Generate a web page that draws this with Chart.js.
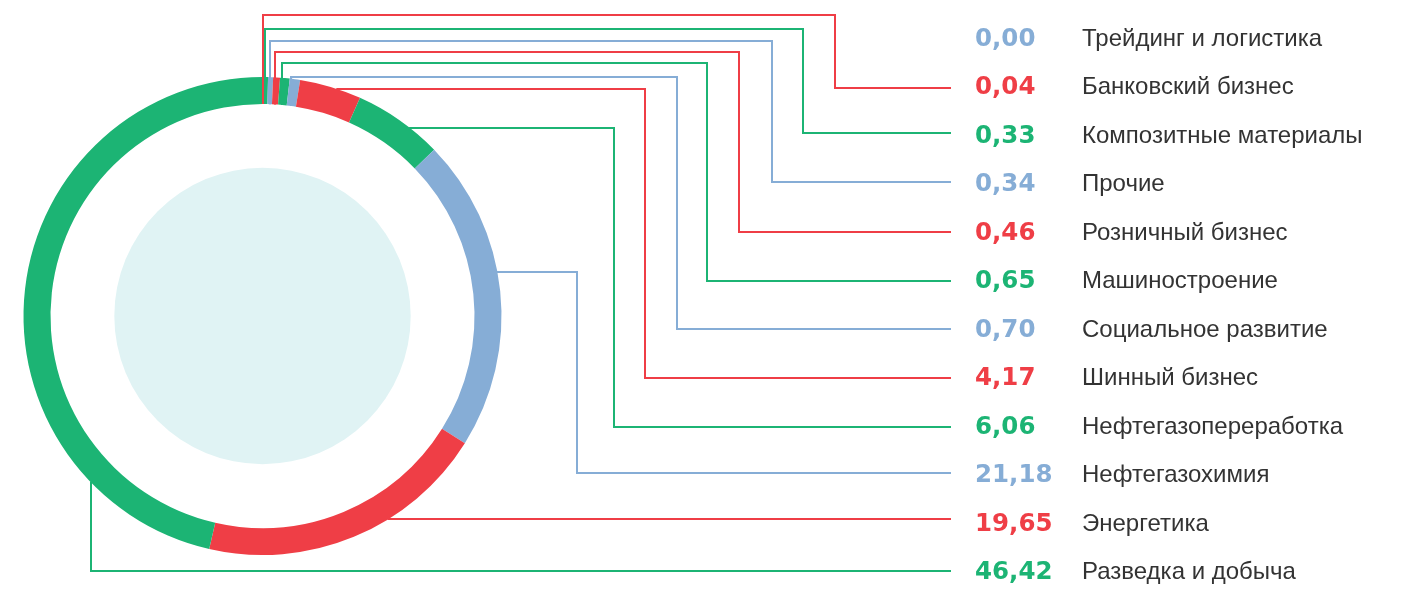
<!DOCTYPE html>
<html>
<head>
<meta charset="utf-8">
<script src="https://cdn.jsdelivr.net/npm/chart.js@4.4.1/dist/chart.umd.min.js"></script>
<style>
  html, body { margin: 0; padding: 0; background: #ffffff; }
  #wrap { position: relative; width: 1407px; height: 589px; overflow: hidden; }
  #chart { position: absolute; left: 0; top: 0; }
  .cell { position: absolute; height: 30px; line-height: 30px; white-space: nowrap; }
  .val { font-family: "DejaVu Sans", sans-serif; font-weight: bold; font-size: 24.5px; }
  .lab { font-family: "Liberation Sans", Arial, sans-serif; font-size: 24px; color: #333333; }
</style>
</head>
<body>
<div id="wrap">
  <canvas id="chart" width="1407" height="589"></canvas>
  <div id="legend"></div>
</div>
<script>
// ---- data ----
const categories = [
  'Трейдинг и логистика',
  'Банковский бизнес',
  'Композитные материалы',
  'Прочие',
  'Розничный бизнес',
  'Машиностроение',
  'Социальное развитие',
  'Шинный бизнес',
  'Нефтегазопереработка',
  'Нефтегазохимия',
  'Энергетика',
  'Разведка и добыча'
];
const shares = [0.00, 0.04, 0.33, 0.34, 0.46, 0.65, 0.70, 4.17, 6.06, 21.18, 19.65, 46.42];

// ---- styles / layout ----
const GREEN = '#1cb474', RED = '#ef3e46', BLUE = '#86add6';
const sliceColors = [BLUE, RED, GREEN, BLUE, RED, GREEN, BLUE, RED, GREEN, BLUE, RED, GREEN];
const discColor = '#e0f3f4';
const discRatio = 0.62;
const lineEndX = 951;
const valueX = 975, labelX = 1082;
const rowTop = 37.5, rowStep = 48.53;
// connector routes (layout only)
const connectorRoutes = [
  null,
  { mode: 'up',   elbowY: 15,  bendX: 835, endY: 88 },
  { mode: 'up',   elbowY: 29,  bendX: 803, endY: 133 },
  { mode: 'up',   elbowY: 41,  bendX: 772, endY: 182 },
  { mode: 'up',   elbowY: 52,  bendX: 739, endY: 232 },
  { mode: 'up',   elbowY: 63,  bendX: 707, endY: 281 },
  { mode: 'up',   elbowY: 77,  bendX: 677, endY: 329 },
  { mode: 'side', elbowY: 89,  bendX: 645, endY: 378 },
  { mode: 'side', elbowY: 128, bendX: 614, endY: 427 },
  { mode: 'side', elbowY: 272, bendX: 577, endY: 473 },
  { mode: 'side', elbowY: 519, bendX: null, endY: 519 },
  { mode: 'down', bendX: 91, endY: 571 }
];

const ringDecor = {
  id: 'ringDecor',
  beforeDatasetsDraw(chart) {
    const arc = chart.getDatasetMeta(0).data[0];
    if (!arc) return;
    const p = arc.getProps(['x', 'y', 'outerRadius'], true);
    const ctx = chart.ctx;
    ctx.save();
    ctx.fillStyle = discColor;
    ctx.beginPath();
    ctx.arc(p.x, p.y, p.outerRadius * discRatio, 0, Math.PI * 2);
    ctx.fill();
    ctx.restore();
  },
  afterDatasetsDraw(chart) {
    const ctx = chart.ctx;
    const meta = chart.getDatasetMeta(0);
    ctx.save();
    ctx.lineWidth = 2;
    ctx.lineJoin = 'miter';
    ctx.lineCap = 'butt';
    meta.data.forEach((arc, i) => {
      const r = connectorRoutes[i];
      if (!r) return;
      const p = arc.getProps(['x', 'y', 'startAngle', 'endAngle', 'innerRadius', 'outerRadius'], true);
      const pts = [];
      if (r.mode === 'up') {
        const mid = (p.startAngle + p.endAngle) / 2;
        const sx = Math.round(p.x + Math.cos(mid) * p.innerRadius);
        const sy = p.y + Math.sin(mid) * p.innerRadius;
        pts.push([sx, sy], [sx, r.elbowY], [r.bendX, r.elbowY], [r.bendX, r.endY], [lineEndX, r.endY]);
      } else if (r.mode === 'side') {
        const dy = r.elbowY - p.y;
        const sx = p.x + Math.sqrt(Math.max(p.outerRadius * p.outerRadius - dy * dy, 0)) - 1;
        pts.push([sx, r.elbowY]);
        if (r.bendX !== null) {
          pts.push([r.bendX, r.elbowY], [r.bendX, r.endY]);
        }
        pts.push([lineEndX, r.endY]);
      } else if (r.mode === 'down') {
        const dx = r.bendX - p.x;
        const sy = p.y + Math.sqrt(Math.max(p.outerRadius * p.outerRadius - dx * dx, 0)) - 1;
        pts.push([r.bendX, sy], [r.bendX, r.endY], [lineEndX, r.endY]);
      }
      ctx.strokeStyle = sliceColors[i];
      ctx.beginPath();
      pts.forEach((pt, k) => {
        if (k === 0) ctx.moveTo(pt[0], pt[1]); else ctx.lineTo(pt[0], pt[1]);
      });
      ctx.stroke();
    });
    ctx.restore();
  }
};

new Chart(document.getElementById('chart'), {
  type: 'doughnut',
  data: {
    labels: categories,
    datasets: [{
      data: shares,
      backgroundColor: sliceColors,
      borderWidth: 0,
      hoverBorderWidth: 0,
      offset: 0,
      hoverOffset: 0
    }]
  },
  options: {
    responsive: false,
    animation: false,
    events: [],
    cutout: '88.7%',
    rotation: 0,
    layout: { padding: { left: 23.5, top: 77, right: 905.5, bottom: 34 } },
    plugins: { legend: { display: false }, tooltip: { enabled: false } }
  },
  plugins: [ringDecor]
});

// ---- legend (HTML text) ----
const legend = document.getElementById('legend');
categories.forEach((name, i) => {
  const cy = rowTop + rowStep * i;
  const v = document.createElement('div');
  v.className = 'cell val';
  v.style.left = valueX + 'px';
  v.style.top = (cy - 15) + 'px';
  v.style.color = sliceColors[i];
  v.textContent = shares[i].toFixed(2).replace('.', ',');
  legend.appendChild(v);
  const l = document.createElement('div');
  l.className = 'cell lab';
  l.style.left = labelX + 'px';
  l.style.top = (cy - 15) + 'px';
  l.textContent = name;
  legend.appendChild(l);
});
</script>
</body>
</html>
